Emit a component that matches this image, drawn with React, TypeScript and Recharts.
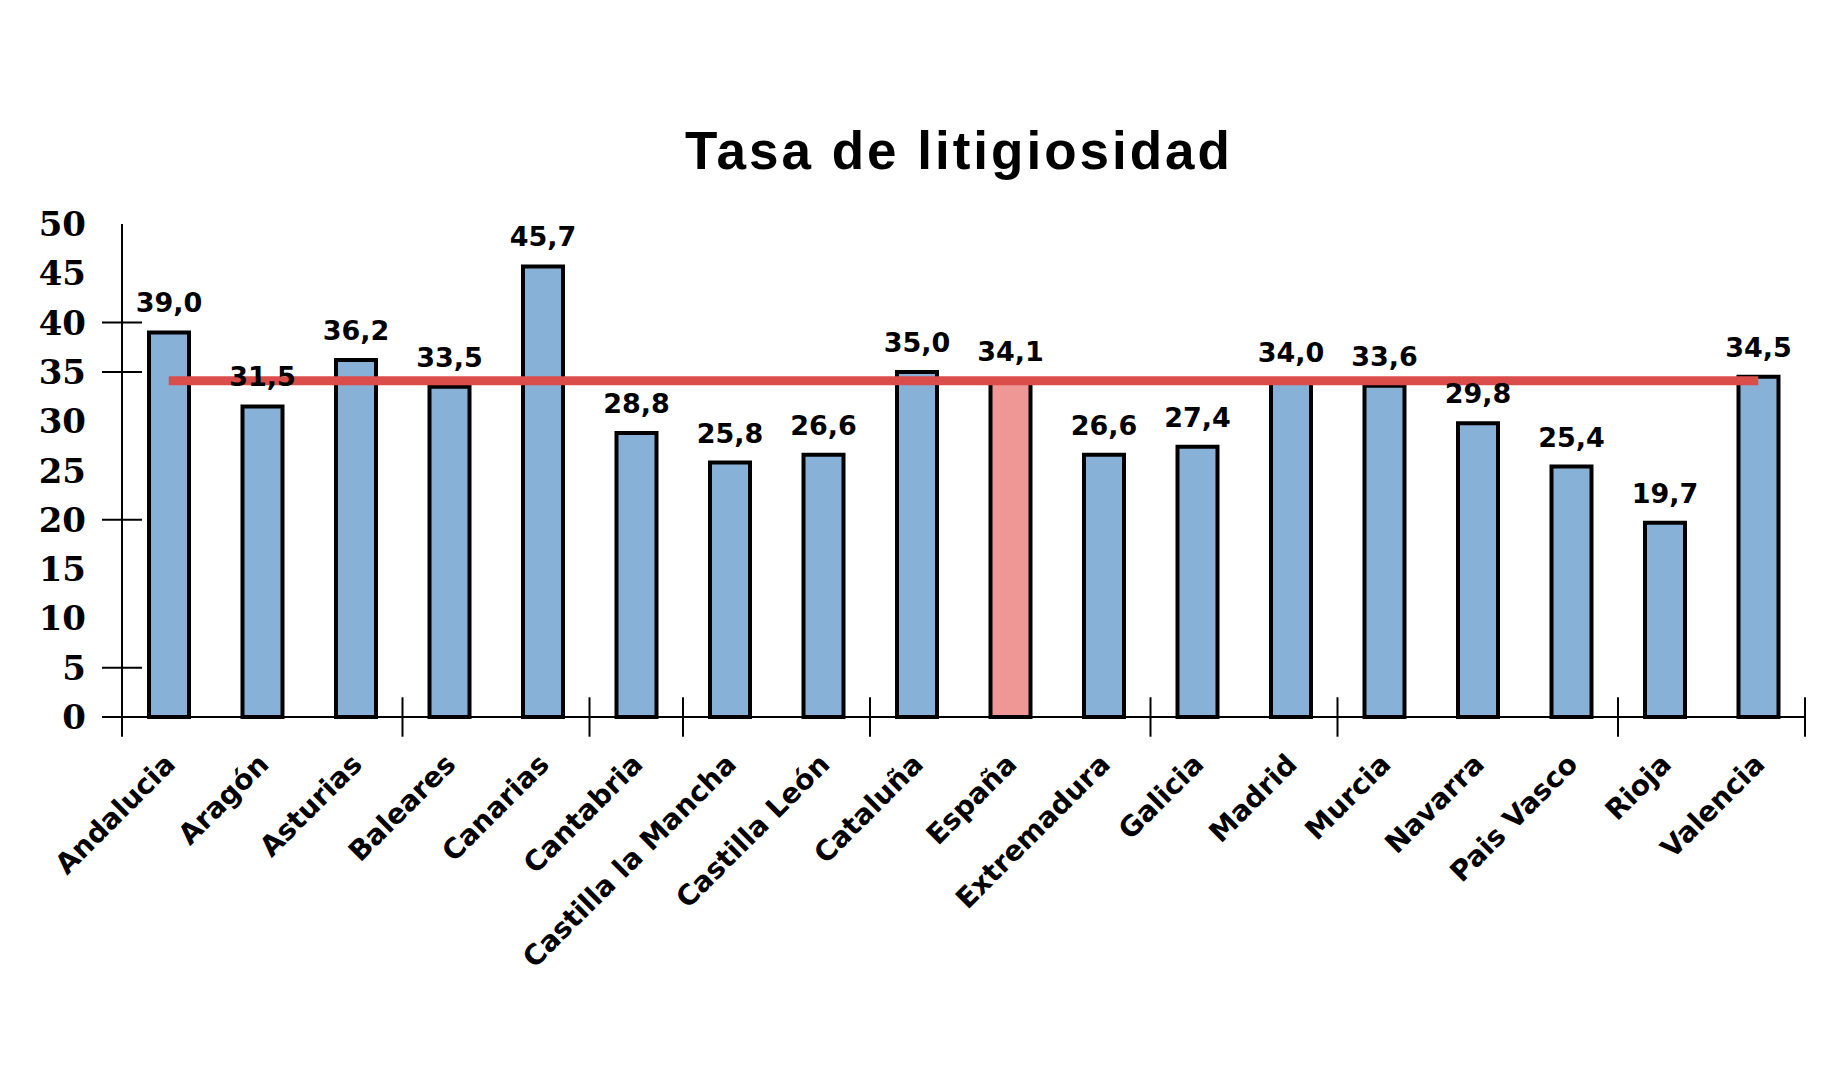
import { BarChart, Bar, XAxis, YAxis, Cell, LabelList, ReferenceLine } from 'recharts'

const regions = [
  'Andalucia',
  'Aragón',
  'Asturias',
  'Baleares',
  'Canarias',
  'Cantabria',
  'Castilla la Mancha',
  'Castilla León',
  'Cataluña',
  'España',
  'Extremadura',
  'Galicia',
  'Madrid',
  'Murcia',
  'Navarra',
  'Pais Vasco',
  'Rioja',
  'Valencia',
]
const tasa = [39.0, 31.5, 36.2, 33.5, 45.7, 28.8, 25.8, 26.6, 35.0, 34.1, 26.6, 27.4, 34.0, 33.6, 29.8, 25.4, 19.7, 34.5]
const mediaEspana = 34.1
const yTicks = [0, 5, 10, 15, 20, 25, 30, 35, 40, 45, 50]
// the original only draws marks on some of the y ticks
const yTickMarks = [0, 5, 20, 35, 40]
// category boundaries (index of the band they open) that carry a tick mark on the x axis
const xTickMarks = [0, 3, 5, 6, 8, 11, 13, 16, 18]

const data = regions.map((region, i) => ({ region, tasa: tasa[i] }))

const BLUE = '#88B1D8'
const PINK = '#EE9794'
const RED = '#DB4D4B'

const fmt = (v: number) => v.toFixed(1).replace('.', ',')

function YTick({ x, y, payload }: any) {
  const v = payload.value as number
  return (
    <g>
      <text
        x={x}
        y={y}
        textAnchor="end"
        dominantBaseline="central"
        fontFamily="DejaVu Serif"
        fontWeight="bold"
        fontSize={34}
        fill="#000"
      >
        {v}
      </text>
      {yTickMarks.includes(v) && (
        <line x1={x + 16} x2={x + 56} y1={y} y2={y} stroke="#000" strokeWidth={2} />
      )}
    </g>
  )
}

function XTick({ x, y, payload }: any) {
  return (
    <text
      transform={`translate(${x + 8},${y + 49}) rotate(-45)`}
      textAnchor="end"
      fontFamily="DejaVu Sans"
      fontWeight="bold"
      fontSize={28}
      fill="#000"
    >
      {payload.value}
    </text>
  )
}

export default function App() {
  return (
    <div style={{ position: 'absolute', left: 0, top: 0, width: 1842, height: 1080, background: '#fff' }}>
      <div
        style={{
          position: 'absolute',
          left: 559,
          top: 121,
          width: 800,
          textAlign: 'center',
          fontFamily: '"Liberation Sans", Arial, sans-serif',
          fontWeight: 'bold',
          fontSize: 53,
          lineHeight: '60px',
          letterSpacing: 3,
          color: '#000',
        }}
      >
        Tasa de litigiosidad
      </div>
      <BarChart
        width={1842}
        height={1080}
        data={data}
        margin={{ top: 224, right: 37, left: 0, bottom: 0 }}
      >
        <XAxis
          dataKey="region"
          interval={0}
          height={363}
          tickLine={false}
          tickSize={0}
          tickMargin={0}
          axisLine={{ stroke: '#000', strokeWidth: 2 }}
          tick={XTick}
        />
        <YAxis
          width={122}
          domain={[0, 50]}
          ticks={yTicks}
          interval={0}
          tickLine={false}
          tickSize={0}
          tickMargin={36}
          axisLine={{ stroke: '#000', strokeWidth: 2 }}
          tick={YTick}
        />
        <Bar dataKey="tasa" barSize={40} stroke="#000" strokeWidth={4} isAnimationActive={false}>
          {data.map((d) => (
            <Cell key={d.region} fill={d.region === 'España' ? PINK : BLUE} />
          ))}
          <LabelList
            dataKey="tasa"
            position="top"
            offset={20}
            formatter={(v: any) => fmt(Number(v))}
            style={{ fontFamily: 'DejaVu Sans', fontWeight: 'bold', fontSize: 27, fill: '#000' }}
          />
        </Bar>
        {xTickMarks.map((k) => {
          const atEnd = k >= regions.length
          const cat = regions[atEnd ? regions.length - 1 : k]
          return (
            <ReferenceLine
              key={k}
              ifOverflow="visible"
              position={atEnd ? 'end' : 'start'}
              segment={[
                { x: cat, y: -2 },
                { x: cat, y: 2 },
              ]}
              stroke="#000"
              strokeWidth={2}
            />
          )
        })}
        <ReferenceLine
          ifOverflow="visible"
          segment={[
            { x: regions[0], y: mediaEspana },
            { x: regions[regions.length - 1], y: mediaEspana },
          ]}
          stroke={RED}
          strokeWidth={9}
        />
      </BarChart>
    </div>
  )
}
